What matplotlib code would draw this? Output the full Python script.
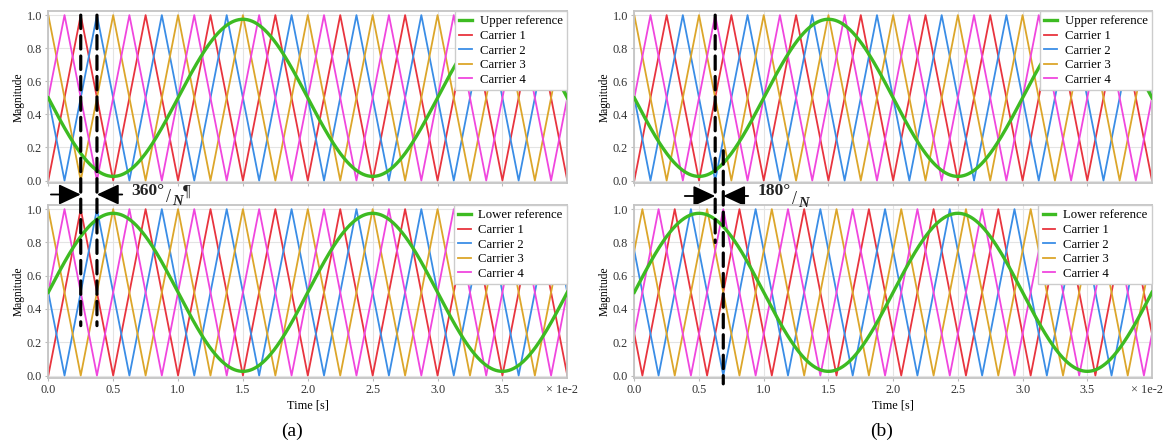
import numpy as np
import matplotlib
matplotlib.use("Agg")
import matplotlib.pyplot as plt
from matplotlib.patches import ConnectionPatch
from matplotlib.ticker import FuncFormatter
from matplotlib.transforms import blended_transform_factory

plt.rcParams['font.family'] = ['Liberation Serif', 'DejaVu Serif']
plt.rcParams['font.size'] = 8.8

# signal settings (time in seconds, axis shown in units of 1e-2 s)
t_end = 0.04
f_ref = 50.0
ref_offset = 0.5
ref_amp = 0.475
f_carrier = 200.0

# first peak of each carrier, in 1e-2 s
peaks_a_upper = [0.25, 0.375, 0.0, 0.125]
peaks_a_lower = [0.25, 0.375, 0.0, 0.125]
peaks_b_upper = [0.25, 0.375, 0.0, 0.125]
peaks_b_lower = [0.3125, 0.4375, 0.0625, 0.1875]

carrier_labels = ["Carrier 1", "Carrier 2", "Carrier 3", "Carrier 4"]
carrier_colors = ["#e8343e", "#3a8de6", "#dca62a", "#f046de"]
ref_color = "#3dbb22"
x_ticks = [0.0, 0.5, 1.0, 1.5, 2.0, 2.5, 3.0, 3.5]


def carrier_wave(peak):
    # triangle between 0 and 1, corners at peaks and valleys
    period = 1.0 / f_carrier
    t0 = peak * 1e-2
    k = np.arange(-2, int(t_end * f_carrier) + 3)
    tp = t0 + k * period
    tv = tp + period / 2
    tt = np.empty(2 * len(k))
    tt[0::2] = tp
    tt[1::2] = tv
    yy = np.tile([1.0, 0.0], len(k))
    return tt, yy


def draw_panel(ax, peaks, ref_sign, ref_label):
    handles = []
    for peak, lab, col in zip(peaks, carrier_labels, carrier_colors):
        tt, yy = carrier_wave(peak)
        h, = ax.plot(tt, yy, color=col, lw=1.3, label=lab)
        handles.append(h)
    t = np.linspace(0, t_end, 2000)
    ref = ref_offset + ref_sign * ref_amp * np.sin(2 * np.pi * f_ref * t)
    hr, = ax.plot(t, ref, color=ref_color, lw=2.4, label=ref_label, zorder=5)
    ax.set_xlim(0, t_end)
    ax.set_ylim(-0.015, 1.025)
    ax.set_yticks([0.0, 0.2, 0.4, 0.6, 0.8, 1.0])
    ax.set_xticks([v * 1e-2 for v in x_ticks])
    ax.xaxis.set_major_formatter(FuncFormatter(lambda v, p: f"{v * 100:.1f}"))
    ax.grid(True, color="#e4e4e4", lw=0.8)
    ax.set_axisbelow(True)
    for s in ax.spines.values():
        s.set_color("#c4c4c4")
        s.set_linewidth(1.3)
    ax.tick_params(length=2.5, width=0.8, color="#bbbbbb", labelcolor="#333333", pad=2)
    ax.set_ylabel("Magnitude", fontsize=8.3, labelpad=1.5)
    leg = ax.legend([hr] + handles, [ref_label] + carrier_labels, loc="upper right",
                    fontsize=9.2, handlelength=1.0, handletextpad=0.6, labelspacing=0.2,
                    borderaxespad=0.0, fancybox=False, framealpha=1.0, borderpad=0.35)
    leg.get_frame().set_edgecolor("#cccccc")
    leg.set_zorder(10)


fig = plt.figure(figsize=(11.68, 4.45), dpi=100)
W, H = 1168.0, 445.0

panels = []
for left_px, right_px, peaks_u, peaks_l in [(48.3, 567.3, peaks_a_upper, peaks_a_lower),
                                              (634.3, 1152.0, peaks_b_upper, peaks_b_lower)]:
    ax_u = fig.add_axes([left_px / W, 1 - 183 / H, (right_px - left_px) / W, 172 / H])
    ax_l = fig.add_axes([left_px / W, 1 - 378 / H, (right_px - left_px) / W, 173 / H])
    draw_panel(ax_u, peaks_u, -1, "Upper reference")
    draw_panel(ax_l, peaks_l, 1, "Lower reference")
    ax_u.tick_params(labelbottom=False)
    ax_l.set_xlabel("Time [s]", labelpad=2)
    ax_l.annotate("× 1e-2", xy=(0.99, 0), xycoords="axes fraction", xytext=(0, -4.5),
                  textcoords="offset points", ha="center", va="top", color="#333333")
    panels.append((ax_u, ax_l))

fig.text(292 / W, 1 - 431 / H, "(a)", ha="center", va="center", fontsize=14)
fig.text(882 / W, 1 - 431 / H, "(b)", ha="center", va="center", fontsize=14)


def dashed(ax_u, ax_l, x, y_top, y_bot):
    con = ConnectionPatch(xyA=(x * 1e-2, y_top), coordsA=ax_u.transData,
                          xyB=(x * 1e-2, y_bot), coordsB=ax_l.transData,
                          color="black", lw=2.3, linestyle=(0, (4.2, 2.2)), zorder=20)
    fig.add_artist(con)


def arrow(ax, x_tail, x_tip, y_fig):
    ax.annotate("", xy=(x_tip * 1e-2, y_fig), xycoords=("data", "figure fraction"),
                xytext=(x_tail * 1e-2, y_fig), textcoords=("data", "figure fraction"),
                arrowprops=dict(arrowstyle="-|>,head_length=0.9,head_width=0.42",
                                mutation_scale=15, lw=1.3, color="black",
                                shrinkA=0, shrinkB=0),
                annotation_clip=False)


def phase_label(ax, deg_text, x_deg, x_slash, x_n, y_n, tail=None, x_tail=None):
    # x positions in the data units of the axis above, y in figure pixels from the top
    tr = blended_transform_factory(ax.transData, fig.transFigure)
    kw = dict(transform=tr, ha="left", va="center", color="#222222", zorder=30)
    fig.text(x_deg * 1e-2, 1 - 191.5 / H, deg_text, fontsize=12.5, fontweight="bold", **kw)
    fig.text(x_slash * 1e-2, 1 - (y_n - 4) / H, "/", fontsize=13, **kw)
    fig.text(x_n * 1e-2, 1 - y_n / H, "N", fontsize=10.5, fontweight="bold",
             fontstyle="italic", **kw)
    if tail:
        fig.text(x_tail * 1e-2, 1 - 191.5 / H, tail, fontsize=12, **kw)


# (a) shift between neighbouring carriers
ax_u, ax_l = panels[0]
dashed(ax_u, ax_l, 0.25, 1.0, 0.3)
dashed(ax_u, ax_l, 0.375, 1.0, 0.3)
arrow(ax_u, 0.02, 0.25, 1 - 194.5 / H)
arrow(ax_u, 0.57, 0.375, 1 - 194.5 / H)
phase_label(ax_u, "360°", 0.64, 0.905, 0.955, 201.5, tail="¶", x_tail=1.04)

# (b) shift between upper and lower carrier sets
ax_u, ax_l = panels[1]
dashed(ax_u, ax_l, 0.625, 1.0, 0.8)
dashed(ax_u, ax_l, 0.6875, 0.18, -0.05)
arrow(ax_u, 0.39, 0.625, 1 - 196 / H)
arrow(ax_u, 0.88, 0.6875, 1 - 196 / H)
phase_label(ax_u, "180°", 0.95, 1.215, 1.265, 204)

fig.savefig("out.png", dpi=100)
